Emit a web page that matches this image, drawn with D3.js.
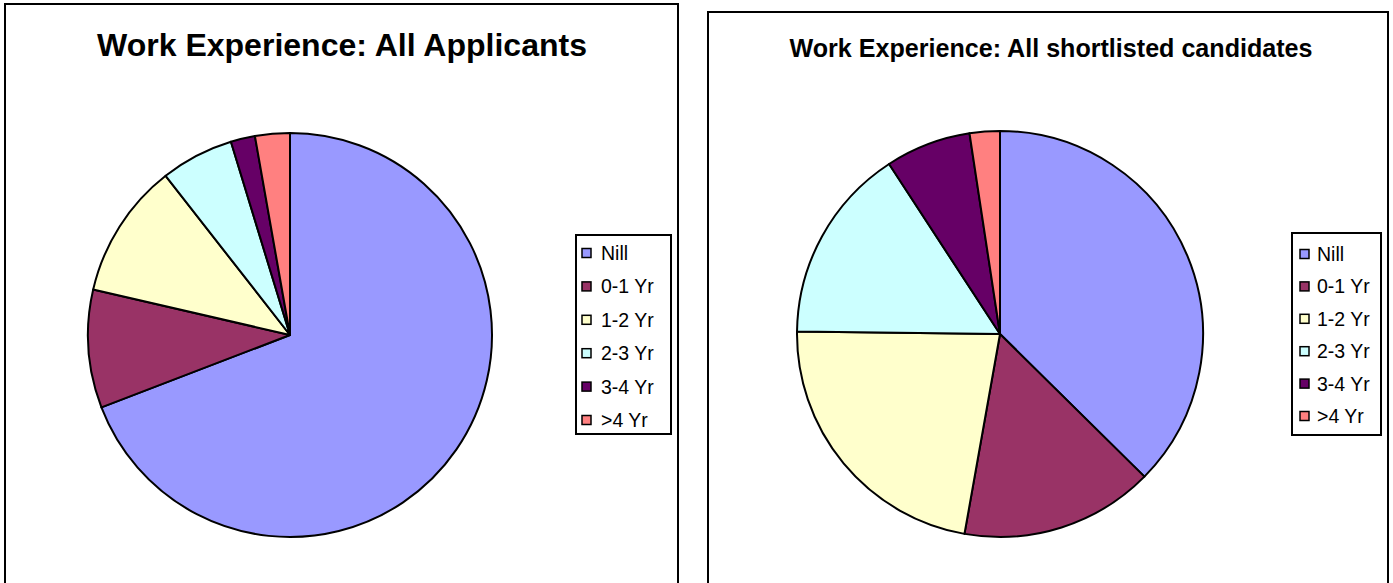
<!DOCTYPE html>
<html>
<head>
<meta charset="utf-8">
<script src="https://cdn.jsdelivr.net/npm/d3@7"></script>
<style>
  body { margin: 0; background: #fff; }
  svg { display: block; font-family: "Liberation Sans", Arial, sans-serif; }
</style>
</head>
<body>
<svg id="chart" width="1393" height="583"></svg>
<script>
// categories and colours
var categories = ["Nill", "0-1 Yr", "1-2 Yr", "2-3 Yr", "3-4 Yr", ">4 Yr"];
var colors = ["#9999FF", "#993366", "#FFFFCC", "#CCFFFF", "#660066", "#FF8080"];

// series values
var allApplicants = [249, 34, 39, 21, 7, 10];
var shortlisted = [37.4, 15.4, 22.4, 15.6, 6.8, 2.4];

var titles = ["Work Experience: All Applicants", "Work Experience: All shortlisted candidates"];

var svg = d3.select("#chart");

var color = d3.scaleOrdinal().domain(categories).range(colors);

var pie = d3.pie().sort(null).value(function(d) { return d.value; });

// panel layout
var panels = [
  {x: 5, y: 4, w: 673, title: titles[0], titleSize: 31, titleLen: 490, titleX: 342, titleY: 56,
   cx: 290, cy: 335, r: 202, data: allApplicants,
   legend: {x: 576, y: 235, w: 95, h: 199, sw: 582, tx: 601, top: 253, bottom: 420}},
  {x: 708, y: 12, w: 680, title: titles[1], titleSize: 25, titleLen: 523, titleX: 1051, titleY: 57,
   cx: 1000, cy: 334, r: 203, data: shortlisted,
   legend: {x: 1292, y: 233, w: 89, h: 202, sw: 1300, tx: 1317, top: 254, bottom: 416}}
];

panels.forEach(function(p) {
  var g = svg.append("g");

  // frame (runs off the bottom)
  g.append("path")
    .attr("d", "M" + p.x + "," + 600 + "V" + p.y + "H" + (p.x + p.w) + "V" + 600)
    .attr("fill", "none")
    .attr("stroke", "#000")
    .attr("stroke-width", 2);

  g.append("text")
    .attr("x", p.titleX)
    .attr("y", p.titleY)
    .attr("text-anchor", "middle")
    .attr("font-weight", "bold")
    .attr("font-size", p.titleSize)
    .attr("textLength", p.titleLen)
    .attr("lengthAdjust", "spacingAndGlyphs")
    .text(p.title);

  var arc = d3.arc().innerRadius(0).outerRadius(p.r);
  var rows = categories.map(function(c, i) { return {name: c, value: p.data[i]}; });

  g.append("g")
    .attr("transform", "translate(" + p.cx + "," + p.cy + ")")
    .selectAll("path")
    .data(pie(rows))
    .enter()
      .append("path")
      .attr("d", arc)
      .attr("fill", function(d) { return color(d.data.name); })
      .attr("stroke", "#000")
      .attr("stroke-width", 2)
      .attr("stroke-linejoin", "round");

  // legend
  var L = p.legend;
  var y = d3.scalePoint().domain(categories).range([L.top, L.bottom]);

  g.append("rect")
    .attr("x", L.x).attr("y", L.y)
    .attr("width", L.w).attr("height", L.h)
    .attr("fill", "#fff")
    .attr("stroke", "#000")
    .attr("stroke-width", 2);

  var item = g.selectAll(".item")
    .data(categories)
    .enter()
      .append("g")
      .attr("transform", function(d) { return "translate(0," + y(d) + ")"; });

  item.append("rect")
    .attr("x", L.sw).attr("y", -4.5)
    .attr("width", 9).attr("height", 9)
    .attr("fill", function(d) { return color(d); })
    .attr("stroke", "#000")
    .attr("stroke-width", 1.5);

  item.append("text")
    .attr("x", L.tx)
    .attr("y", 7)
    .attr("font-size", 19.5)
    .text(function(d) { return d; });
});
</script>
</body>
</html>
